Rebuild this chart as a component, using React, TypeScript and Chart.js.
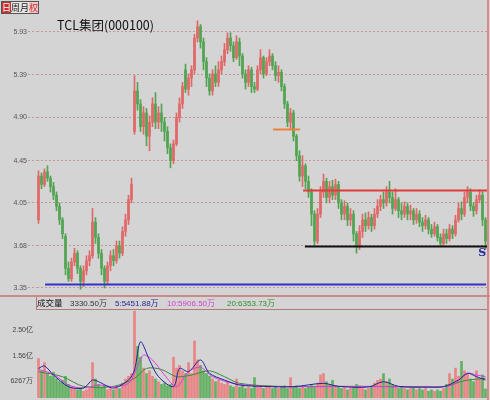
import { useEffect, useRef } from "react";
import { Chart, registerables } from "chart.js";
Chart.register(...registerables);

const stockName = "TCL集团(000100)";
const periodButtons = ["日", "周", "月", "权"];
const priceTicks = [3.35, 3.68, 4.05, 4.45, 4.9, 5.39, 5.93];
const volumeTicks = [6267, 15600, 25000];
const volumeHeader = ["成交量", "3330.50万", "5:5451.88万", "10:5906.50万", "20:6353.73万"];

const opens = [
  3.90, 4.30, 4.22, 4.34, 4.28, 4.20, 4.12, 4.02, 3.90, 3.76,
  3.50, 3.42, 3.55, 3.62, 3.50, 3.40, 3.48, 3.56, 3.60, 3.88,
  3.75, 3.62, 3.50, 3.40, 3.52, 3.60, 3.56, 3.68, 3.62, 3.80,
  3.90, 4.08, 4.75, 5.20, 5.05, 4.80, 4.95, 4.70, 4.85, 5.05,
  4.85, 4.95, 4.85, 4.75, 4.58, 4.45, 4.62, 4.90, 5.05, 5.45,
  5.22, 5.35, 5.45, 5.85, 6.00, 5.80, 5.55, 5.35, 5.20, 5.40,
  5.30, 5.45, 5.55, 5.70, 5.85, 5.75, 5.60, 5.80, 5.62, 5.40,
  5.30, 5.45, 5.25, 5.22, 5.45, 5.60, 5.40, 5.55, 5.62, 5.50,
  5.38, 5.42, 5.25, 5.05, 4.85, 4.95, 4.70, 4.50, 4.30, 4.40,
  4.25, 4.15, 3.95, 3.72, 3.95, 4.15, 4.25, 4.10, 4.20, 4.12,
  4.22, 4.05, 3.95, 4.02, 3.90, 3.95, 3.78, 3.68, 3.80, 3.90,
  3.85, 3.92, 3.85, 3.95, 4.02, 4.08, 4.05, 4.15, 4.10, 4.00,
  4.08, 3.98, 3.95, 4.02, 3.95, 3.98, 3.90, 3.95, 3.88, 3.85,
  3.90, 3.82, 3.78, 3.84, 3.75, 3.70, 3.78, 3.74, 3.82, 3.78,
  3.90, 4.00, 3.95, 4.10, 4.15, 4.02, 3.98, 4.08, 4.12, 3.90,
];
const highs = [
  4.35, 4.33, 4.37, 4.40, 4.30, 4.24, 4.15, 4.05, 3.92, 3.78,
  3.55, 3.58, 3.66, 3.64, 3.52, 3.52, 3.60, 3.64, 4.00, 3.92,
  3.78, 3.65, 3.52, 3.55, 3.64, 3.65, 3.72, 3.72, 3.84, 3.95,
  4.12, 4.28, 5.38, 5.30, 5.10, 5.02, 5.00, 4.92, 5.12, 5.18,
  5.02, 5.05, 4.90, 4.80, 4.62, 4.66, 4.95, 5.12, 5.30, 5.52,
  5.40, 5.50, 5.90, 6.08, 6.03, 5.85, 5.60, 5.40, 5.45, 5.50,
  5.55, 5.62, 5.78, 5.92, 5.92, 5.80, 5.88, 5.85, 5.65, 5.45,
  5.50, 5.48, 5.30, 5.50, 5.70, 5.62, 5.60, 5.70, 5.65, 5.55,
  5.50, 5.45, 5.28, 5.08, 5.00, 4.98, 4.72, 4.55, 4.50, 4.42,
  4.30, 4.18, 3.98, 4.00, 4.20, 4.32, 4.28, 4.25, 4.26, 4.27,
  4.25, 4.08, 4.07, 4.05, 4.00, 3.98, 3.80, 3.85, 3.95, 3.96,
  3.97, 3.95, 4.00, 4.08, 4.12, 4.15, 4.20, 4.25, 4.15, 4.18,
  4.10, 4.05, 4.06, 4.05, 4.03, 4.00, 4.00, 3.98, 3.92, 3.94,
  3.92, 3.86, 3.88, 3.86, 3.78, 3.82, 3.82, 3.86, 3.85, 3.94,
  4.05, 4.06, 4.15, 4.20, 4.18, 4.05, 4.12, 4.17, 4.15, 3.92,
];
const lows = [
  3.87, 4.18, 4.20, 4.25, 4.15, 4.08, 3.98, 3.86, 3.74, 3.45,
  3.40, 3.40, 3.52, 3.46, 3.34, 3.36, 3.45, 3.52, 3.58, 3.70,
  3.58, 3.45, 3.35, 3.38, 3.48, 3.52, 3.54, 3.58, 3.60, 3.76,
  3.86, 4.05, 4.72, 4.98, 4.75, 4.72, 4.60, 4.55, 4.80, 4.78,
  4.78, 4.75, 4.65, 4.52, 4.38, 4.42, 4.60, 4.85, 5.00, 5.18,
  5.15, 5.25, 5.40, 5.80, 5.72, 5.45, 5.25, 5.15, 5.15, 5.25,
  5.25, 5.40, 5.50, 5.65, 5.68, 5.55, 5.58, 5.50, 5.35, 5.22,
  5.25, 5.18, 5.18, 5.20, 5.40, 5.35, 5.38, 5.50, 5.45, 5.32,
  5.30, 5.20, 5.00, 4.80, 4.78, 4.65, 4.45, 4.25, 4.20, 4.18,
  4.10, 3.85, 3.68, 3.70, 3.92, 4.10, 4.05, 4.05, 4.08, 4.08,
  4.00, 3.90, 3.90, 3.85, 3.85, 3.72, 3.62, 3.65, 3.75, 3.80,
  3.82, 3.80, 3.82, 3.92, 3.98, 4.00, 4.02, 4.05, 3.95, 3.98,
  3.92, 3.90, 3.92, 3.90, 3.90, 3.86, 3.87, 3.84, 3.80, 3.82,
  3.78, 3.75, 3.76, 3.72, 3.68, 3.68, 3.70, 3.72, 3.74, 3.76,
  3.88, 3.90, 3.93, 4.05, 3.98, 3.93, 3.95, 4.05, 3.85, 3.65,
];
const closes = [
  4.30, 4.22, 4.34, 4.28, 4.20, 4.12, 4.02, 3.90, 3.78, 3.50,
  3.42, 3.55, 3.62, 3.50, 3.40, 3.48, 3.56, 3.60, 3.88, 3.75,
  3.62, 3.50, 3.40, 3.52, 3.60, 3.56, 3.68, 3.62, 3.80, 3.90,
  4.08, 4.22, 5.20, 5.05, 4.80, 4.95, 4.70, 4.85, 5.05, 4.85,
  4.95, 4.85, 4.75, 4.58, 4.45, 4.62, 4.90, 5.05, 5.25, 5.22,
  5.35, 5.45, 5.85, 6.00, 5.80, 5.55, 5.35, 5.20, 5.40, 5.30,
  5.45, 5.55, 5.70, 5.85, 5.75, 5.60, 5.80, 5.62, 5.40, 5.30,
  5.45, 5.25, 5.22, 5.45, 5.60, 5.40, 5.55, 5.62, 5.50, 5.38,
  5.42, 5.25, 5.05, 4.85, 4.95, 4.70, 4.50, 4.30, 4.40, 4.25,
  4.15, 3.95, 3.72, 3.95, 4.15, 4.25, 4.10, 4.20, 4.12, 4.22,
  4.05, 3.95, 4.02, 3.90, 3.95, 3.78, 3.68, 3.80, 3.90, 3.85,
  3.92, 3.85, 3.95, 4.02, 4.08, 4.05, 4.15, 4.10, 4.00, 4.08,
  3.98, 3.95, 4.02, 3.95, 3.98, 3.90, 3.95, 3.88, 3.85, 3.90,
  3.82, 3.78, 3.84, 3.75, 3.70, 3.78, 3.74, 3.82, 3.78, 3.90,
  4.00, 3.95, 4.10, 4.15, 4.02, 3.98, 4.08, 4.12, 3.90, 3.72,
];
const volumes = [
  14500, 10000, 13000, 9000, 8000, 9500, 7000, 6000, 6500, 8000,
  5000, 4000, 3500, 3000, 3500, 2500, 3000, 3500, 13000, 7000,
  5000, 4000, 4500, 3000, 3500, 3000, 4000, 3500, 5500, 7000,
  8000, 9000, 32000, 19000, 15000, 11000, 9000, 10000, 8000, 7000,
  6000, 5000, 5500, 4500, 5000, 15000, 11000, 12000, 10000, 9000,
  13000, 9000, 21000, 14000, 12000, 10000, 9000, 8000, 7000, 6000,
  6500, 5500, 5000, 6000, 4500, 4000, 7000, 4000, 4500, 3500,
  4000, 3500, 7500, 4500, 4000, 3500, 4000, 4500, 3500, 4000,
  3500, 4000, 4500, 3500, 7500, 4000, 4500, 3500, 4000, 3500,
  4000, 5000, 4000, 5500, 8500, 9000, 6000, 5000, 6500, 4500,
  4000, 3500, 4000, 3000, 3500, 4000, 5000, 4500, 3500, 3000,
  3500, 4000, 5500, 6500, 7000, 9000, 6000, 7000, 5000, 4000,
  3500, 4000, 3500, 3000, 3500, 4000, 3000, 3500, 3000, 3500,
  2500, 3000, 2500, 3000, 2500, 3500, 5000, 9000, 7000, 11000,
  8000, 13500, 10000, 9000, 7000, 6000, 10000, 7000, 8500, 3330.5,
];

// moving-average lines at sample days
const ma5Days = [0, 2, 5, 10, 15, 18, 20, 25, 30, 32, 34, 37, 40, 45, 47, 50, 54, 57, 62, 67, 75, 85, 95, 100, 110, 115, 120, 130, 135, 140, 143, 146, 149];
const ma5Values = [10900, 11800, 8470, 4170, 3680, 6620, 6000, 3680, 6620, 10300, 20700, 14000, 7850, 4170, 10900, 9690, 14000, 9080, 6620, 4780, 4290, 4170, 5400, 4290, 4050, 6000, 4290, 4050, 4170, 6620, 9080, 7850, 6620];
const ma10Days = [0, 5, 10, 15, 20, 25, 30, 33, 35, 38, 42, 46, 50, 54, 58, 65, 75, 90, 110, 130, 138, 143, 146, 149];
const ma10Values = [10500, 8700, 4780, 3680, 4780, 4170, 5400, 11600, 15800, 14000, 8470, 4170, 9690, 11300, 7850, 5400, 4290, 4170, 4290, 4050, 4780, 9080, 8470, 7850];
const ma20Days = [0, 8, 15, 25, 32, 36, 41, 46, 51, 57, 62, 67, 80, 100, 120, 135, 142, 149];
const ma20Values = [9690, 7850, 4290, 4290, 7240, 10900, 10500, 7850, 8470, 10000, 7850, 5400, 4290, 4290, 4170, 4170, 6380, 7240];

// drawn support / resistance lines (price, first day, last day)
const levelPrices = [3.38, 3.68, 4.17, 4.78];
const levelFromDay = [2.2, 88.8, 88.2, 78.2];
const levelToDay = [149.2, 149.6, 149.9, 87.2];
const levelColors = ["#3232c8", "#111111", "#e03a3a", "#f0803c"];

const days = opens.map((_, i) => String(i + 1));

const BG = "#d4d4d4";
const RED = "#e06868";
const GREEN = "#52a452";
const VRED = "#e88484";
const VGREEN = "#62b062";
const AXIS_FONT = { family: '"Liberation Sans", "Noto Sans CJK SC"', size: 7 };

function sparse(dayIdx: number[], vals: number[]) {
  const arr: (number | null)[] = days.map(() => null);
  dayIdx.forEach((d, k) => {
    arr[d] = vals[k];
  });
  return arr;
}

const levelsPlugin = {
  id: "levels",
  afterDatasetsDraw(chart: any) {
    const { ctx, scales } = chart;
    const x = scales.x;
    const y = scales.y;
    levelPrices.forEach((p, k) => {
      const yy = Math.round(y.getPixelForValue(p)) + 0.5;
      ctx.save();
      ctx.strokeStyle = levelColors[k];
      ctx.lineWidth = 2;
      ctx.beginPath();
      ctx.moveTo(x.getPixelForValue(levelFromDay[k]), yy);
      ctx.lineTo(x.getPixelForValue(levelToDay[k]), yy);
      ctx.stroke();
      ctx.restore();
    });
    const sy = y.getPixelForValue(levelPrices[1]);
    ctx.save();
    ctx.fillStyle = "#2a2a9c";
    ctx.font = 'bold 11px "DejaVu Serif"';
    ctx.textBaseline = "top";
    ctx.fillText("S", x.getPixelForValue(146.6), sy + 2);
    ctx.restore();
  },
};

export default function App() {
  const priceRef = useRef<HTMLCanvasElement>(null);
  const volRef = useRef<HTMLCanvasElement>(null);

  useEffect(() => {
    document.body.style.margin = "0";
    document.body.style.background = BG;
    const candleColors = closes.map((c, i) => (c >= opens[i] ? RED : GREEN));
    const volColors = closes.map((c, i) => (c >= opens[i] ? VRED : VGREEN));

    const price = new Chart(priceRef.current!, {
      type: "bar",
      data: {
        labels: days,
        datasets: [
          {
            data: lows.map((l, i) => [l, highs[i]]) as any,
            backgroundColor: candleColors,
            barThickness: 1,
            grouped: false,
            order: 2,
          } as any,
          {
            data: opens.map((o, i) => [o, closes[i]]) as any,
            backgroundColor: candleColors,
            barThickness: 2,
            grouped: false,
            minBarLength: 1,
            order: 1,
          } as any,
        ],
      },
      options: {
        animation: false,
        responsive: false,
        layout: { padding: { top: 12, right: 3, bottom: 1, left: 0 } },
        plugins: { legend: { display: false }, tooltip: { enabled: false } },
        scales: {
          x: { display: false, offset: true, grid: { display: false } },
          y: {
            type: "logarithmic",
            min: 3.298,
            max: 6.2,
            afterBuildTicks: (s: any) => {
              s.ticks = priceTicks.map((v) => ({ value: v }));
            },
            afterFit: (s: any) => {
              s.width = 37;
              s.paddingTop = 0;
              s.paddingBottom = 0;
            },
            ticks: {
              autoSkip: false,
              padding: 1,
              color: "#555555",
              font: AXIS_FONT,
              callback: (v: any) => Number(v).toFixed(2),
            },
            grid: {
              color: "rgba(185,120,120,0.65)",
              tickColor: "rgba(185,120,120,0.65)",
              tickLength: 9,
              tickBorderDash: [2, 2],
            },
            border: { display: false, dash: [2, 2] },
          } as any,
        },
      },
      plugins: [levelsPlugin],
    });

    const vol = new Chart(volRef.current!, {
      type: "bar",
      data: {
        labels: days,
        datasets: [
          {
            type: "line",
            data: sparse(ma5Days, ma5Values),
            borderColor: "#23239a",
            borderWidth: 1,
            pointRadius: 0,
            spanGaps: true,
            tension: 0.3,
            order: 1,
          } as any,
          {
            type: "line",
            data: sparse(ma10Days, ma10Values),
            borderColor: "#d640d6",
            borderWidth: 1,
            pointRadius: 0,
            spanGaps: true,
            tension: 0.3,
            order: 1,
          } as any,
          {
            type: "line",
            data: sparse(ma20Days, ma20Values),
            borderColor: "#3a8a3a",
            borderWidth: 1,
            pointRadius: 0,
            spanGaps: true,
            tension: 0.3,
            order: 1,
          } as any,
          {
            type: "bar",
            data: volumes,
            backgroundColor: volColors,
            barThickness: 2,
            order: 2,
          } as any,
        ],
      },
      options: {
        animation: false,
        responsive: false,
        layout: { padding: { top: 0, right: 3, bottom: 2, left: 0 } },
        plugins: { legend: { display: false }, tooltip: { enabled: false } },
        scales: {
          x: { display: false, offset: true, grid: { display: false } },
          y: {
            min: 0,
            max: 32400,
            afterBuildTicks: (s: any) => {
              s.ticks = volumeTicks.map((v) => ({ value: v }));
            },
            afterFit: (s: any) => {
              s.width = 37;
              s.paddingTop = 0;
              s.paddingBottom = 0;
            },
            ticks: {
              autoSkip: false,
              padding: 4,
              color: "#444444",
              font: AXIS_FONT,
              callback: (v: any) =>
                Number(v) >= 10000 ? (Number(v) / 10000).toFixed(2) + "亿" : String(v) + "万",
            },
            grid: { drawOnChartArea: false, drawTicks: false },
            border: { display: false },
          } as any,
        },
      },
    });

    return () => {
      price.destroy();
      vol.destroy();
    };
  }, []);

  const headerColors = ["#111111", "#333333", "#25258f", "#d040d0", "#2f8f2f"];
  const headerLeft = [37, 70, 115, 167, 227];
  const btnBg = ["#c83030", "#e4e4e4", "#e4e4e4", "#f0c8c8"];
  const btnFg = ["#ffffff", "#222222", "#222222", "#c83030"];

  return (
    <div style={{ position: "relative", width: 490, height: 400, background: BG, overflow: "hidden" }}>
      <canvas ref={priceRef} width={490} height={296} style={{ position: "absolute", left: 0, top: 0, display: "block" }} />
      <canvas ref={volRef} width={490} height={90} style={{ position: "absolute", left: 0, top: 310, display: "block" }} />
      <div style={{ position: "absolute", left: 1, top: 1, display: "flex", border: "1px solid #555", height: 11 }}>
        {periodButtons.map((b, k) => (
          <span
            key={b}
            style={{
              width: 9,
              height: 11,
              lineHeight: "11px",
              fontSize: 9,
              textAlign: "center",
              background: btnBg[k],
              color: btnFg[k],
              fontFamily: '"Noto Sans CJK SC"',
            }}
          >
            {b}
          </span>
        ))}
      </div>
      <div
        style={{
          position: "absolute",
          left: 57,
          top: 17,
          fontSize: 12.5,
          lineHeight: "16px",
          color: "#111",
          fontFamily: '"Noto Sans CJK SC"',
          whiteSpace: "nowrap",
        }}
      >
        {stockName}
      </div>
      <div style={{ position: "absolute", left: 0, top: 295, width: 490, height: 2, background: "#c98a8a" }} />
      <div
        style={{
          position: "absolute",
          left: 36,
          top: 297,
          width: 452,
          height: 12,
          borderLeft: "1px solid #b07a7a",
          borderBottom: "1px solid #b07a7a",
        }}
      />
      {volumeHeader.map((t, k) => (
        <span
          key={t}
          style={{
            position: "absolute",
            left: headerLeft[k],
            top: 298,
            fontSize: k === 0 ? 8.5 : 8,
            lineHeight: "11px",
            color: headerColors[k],
            fontFamily: '"Liberation Sans", "Noto Sans CJK SC"',
            whiteSpace: "nowrap",
          }}
        >
          {t}
        </span>
      ))}
      <div style={{ position: "absolute", left: 487, top: 0, width: 1.5, height: 400, background: "#d88888" }} />
    </div>
  );
}
